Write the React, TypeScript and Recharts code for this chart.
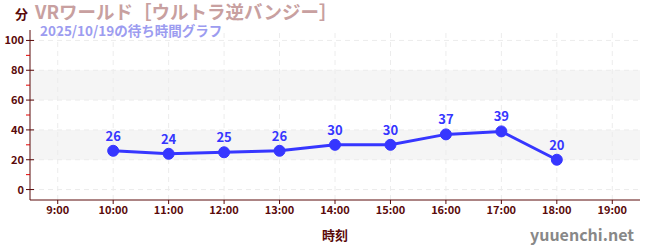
import * as React from "react";
import {
  LineChart,
  Line,
  XAxis,
  YAxis,
  ReferenceArea,
  ReferenceLine,
  LabelList,
} from "recharts";

const hours = [10, 11, 12, 13, 14, 15, 16, 17, 18];
const waits = [26, 24, 25, 26, 30, 30, 37, 39, 20];
const hourTicks = [9, 10, 11, 12, 13, 14, 15, 16, 17, 18, 19];
const waitTicks = [0, 10, 20, 30, 40, 50, 60, 70, 80, 90, 100];
const bands: [number, number][] = [
  [20, 40],
  [60, 80],
];

const title = "VRワールド［ウルトラ逆バンジー］";
const subtitle = "2025/10/19の待ち時間グラフ";

const font = "'Noto Sans CJK JP', 'Noto Sans', sans-serif";
const axisColor = "#5a0a0a";
const lineColor = "#3636ff";

const data = hours.map((h, i) => ({ hour: h, wait: waits[i] }));

const YTick = (props: any) => {
  const { x, y, payload } = props;
  const v = payload.value;
  if (v % 20 !== 0) {
    return <line x1={x + 2} x2={x + 6} y1={y} y2={y} stroke="#e00000" strokeWidth={1} />;
  }
  return (
    <g>
      <line x1={x + 2} x2={x + 10} y1={y} y2={y} stroke={axisColor} strokeWidth={1} />
      <text
        x={x}
        y={y}
        dy={4}
        textAnchor="end"
        fill={axisColor}
        fontSize={11}
        fontWeight="bold"
        fontFamily={font}
      >
        {v}
      </text>
    </g>
  );
};

export default function App() {
  return (
    <div style={{ position: "absolute", left: 0, top: 0, width: 650, height: 250, fontFamily: font }}>
      <LineChart
        width={650}
        height={250}
        data={data}
        margin={{ top: 30, right: 10, bottom: 20, left: 0 }}
      >
        {bands.map(([a, b]) => (
          <ReferenceArea key={a} y1={a} y2={b} fill="#f5f5f5" fillOpacity={1} stroke="none" ifOverflow="hidden" />
        ))}
        {[0, 20, 40, 60, 80, 100].map((v) => (
          <ReferenceLine key={"h" + v} y={v} stroke="#ececec" strokeDasharray="5 4" />
        ))}
        {hourTicks.map((h) => (
          <ReferenceLine key={"v" + h} x={h} stroke="#ececec" strokeDasharray="5 4" />
        ))}
        <XAxis
          dataKey="hour"
          type="number"
          domain={[8.5, 19.5]}
          ticks={hourTicks}
          tickFormatter={(h: number) => `${h}:00`}
          stroke={axisColor}
          tick={{ fill: axisColor, fontSize: 11, fontWeight: "bold", fontFamily: font }}
          tickSize={4}
          height={30}
          label={{
            value: "時刻",
            position: "insideBottom",
            offset: -10,
            fill: axisColor,
            fontSize: 13,
            fontWeight: "bold",
            fontFamily: font,
          }}
        />
        <YAxis
          type="number"
          domain={[-7, 107]}
          ticks={waitTicks}
          interval={0}
          width={30}
          stroke={axisColor}
          tickLine={false}
          tickSize={4}
          tick={<YTick />}
        />
        <Line
          dataKey="wait"
          stroke={lineColor}
          strokeWidth={3}
          dot={{ r: 5.5, fill: lineColor, stroke: lineColor, strokeWidth: 1 }}
          isAnimationActive={false}
        >
          <LabelList
            dataKey="wait"
            position="top"
            offset={10}
            fill={lineColor}
            fontSize={13}
            fontWeight="bold"
            fontFamily={font}
          />
        </Line>
        <text x={15} y={19} fill={axisColor} fontSize={13} fontWeight="bold" fontFamily={font}>
          分
        </text>
        <text x={35} y={19} fill="#c8a0a0" fontSize={18.5} fontWeight="bold" fontFamily={font}>
          {title}
        </text>
        <text x={40} y={36} fill="#9c9cf0" fontSize={13.5} fontWeight="bold" fontFamily={font}>
          {subtitle}
        </text>
        <text x={634} y={241} textAnchor="end" fill="#888888" fontSize={16} fontWeight="bold" fontFamily={font}>
          yuuenchi.net
        </text>
      </LineChart>
    </div>
  );
}
